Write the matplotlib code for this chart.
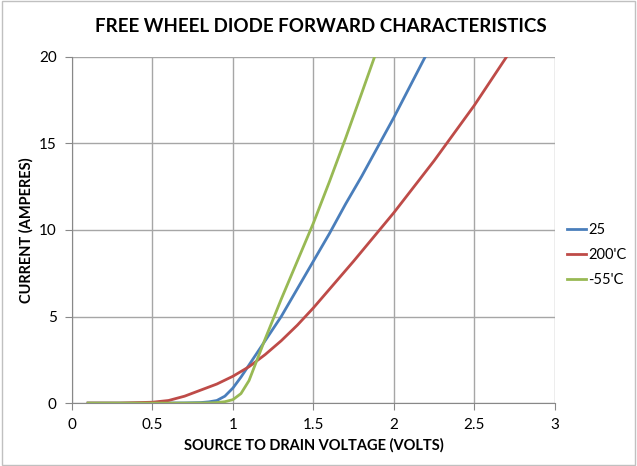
import matplotlib.pyplot as plt
from matplotlib.patches import Rectangle

plt.rcParams['font.family'] = ['Lato', 'DejaVu Sans']

# forward voltage (V) vs current (A) for each junction temperature
v_25 = [0.1, 0.3, 0.5, 0.7, 0.8, 0.85, 0.9, 0.95, 1.0, 1.05, 1.1, 1.15, 1.2, 1.3, 1.4, 1.5, 1.6, 1.7, 1.8, 1.9, 2.0, 2.1, 2.2]
i_25 = [0.0, 0.0, 0.0, 0.01, 0.03, 0.07, 0.15, 0.4, 0.87, 1.5, 2.2, 2.9, 3.6, 5.0, 6.6, 8.2, 9.8, 11.5, 13.1, 14.8, 16.5, 18.3, 20.1]

v_200 = [0.1, 0.3, 0.5, 0.6, 0.7, 0.8, 0.9, 1.0, 1.1, 1.2, 1.3, 1.4, 1.5, 1.75, 2.0, 2.25, 2.5, 2.7]
i_200 = [0.0, 0.0, 0.05, 0.15, 0.4, 0.75, 1.1, 1.55, 2.1, 2.8, 3.6, 4.5, 5.5, 8.2, 11.0, 14.0, 17.2, 20.0]

v_m55 = [0.1, 0.3, 0.5, 0.7, 0.85, 0.9, 0.95, 1.0, 1.05, 1.1, 1.15, 1.2, 1.3, 1.4, 1.5, 1.6, 1.7, 1.8, 1.88]
i_m55 = [0.0, 0.0, 0.0, 0.0, 0.01, 0.03, 0.08, 0.2, 0.55, 1.3, 2.5, 3.7, 6.0, 8.2, 10.4, 12.8, 15.3, 17.9, 20.0]

series = [
    ('25', v_25, i_25, '#4A7EBB'),
    ("200'C", v_200, i_200, '#BE4B48'),
    ("-55'C", v_m55, i_m55, '#98B954'),
]

fig = plt.figure(figsize=(6.37, 4.66), dpi=100)
fig.patches.append(Rectangle((0.003, 0.003), 0.994, 0.994, transform=fig.transFigure,
                             fill=False, edgecolor='#C0C0C0', linewidth=1))
ax = fig.add_axes([0.113, 0.135, 0.758, 0.743])

for name, v, i, c in series:
    ax.plot(v, i, color=c, linewidth=2, label=name)

ax.set_xlim(0, 3)
ax.set_ylim(0, 20)
ax.set_xticks([0, 0.5, 1, 1.5, 2, 2.5, 3])
ax.set_xticklabels(['0', '0.5', '1', '1.5', '2', '2.5', '3'])
ax.set_yticks([0, 5, 10, 15, 20])
ax.grid(True, color='#A6A6A6', linewidth=1)
ax.set_axisbelow(True)
for s in ['top', 'right']:
    ax.spines[s].set_visible(False)
for s in ['left', 'bottom']:
    ax.spines[s].set_color('#888888')
ax.tick_params(direction='out', length=5, color='#888888', labelsize=11, pad=6)

ax.set_title('FREE WHEEL DIODE FORWARD CHARACTERISTICS', fontsize=13.5,
             fontweight='bold', pad=18, x=0.515)
ax.set_xlabel('SOURCE TO DRAIN VOLTAGE (VOLTS)', fontsize=10.5, fontweight='bold', labelpad=4)
ax.set_ylabel('CURRENT (AMPERES)', fontsize=10.5, fontweight='bold', labelpad=4)

fig.legend(loc='center left', bbox_to_anchor=(0.89, 0.453), frameon=False, borderpad=0,
           borderaxespad=0, fontsize=10.5, handlelength=1.3, handletextpad=0.15,
           labelspacing=0.75)

fig.savefig('out.png', dpi=100)
